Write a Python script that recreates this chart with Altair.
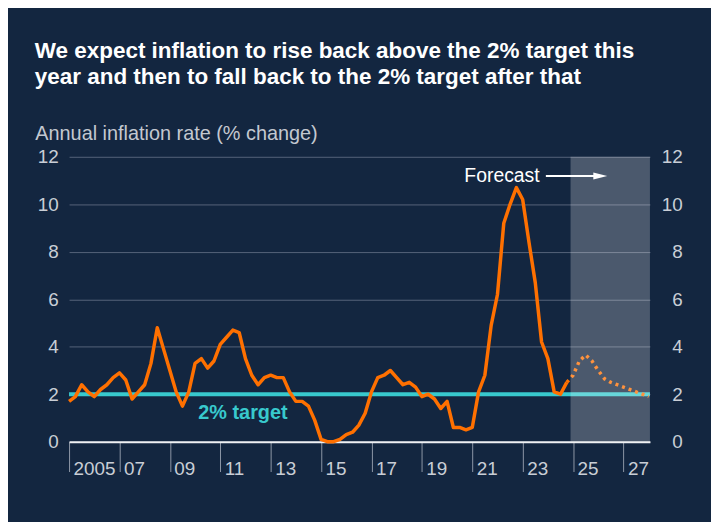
import altair as alt
import pandas as pd

# ---------------- data ----------------
start_year = 2005
actual_cpi = [1.7, 1.9, 2.4, 2.1, 1.9, 2.2, 2.4, 2.7,
              2.9, 2.6, 1.8, 2.1, 2.4, 3.3, 4.8, 3.9,
              3.0, 2.1, 1.5, 2.1, 3.3, 3.5, 3.1, 3.4,
              4.1, 4.4, 4.7, 4.6, 3.5, 2.8, 2.4, 2.7,
              2.8, 2.7, 2.7, 2.1, 1.7, 1.7, 1.5, 0.9,
              0.1, 0.0, 0.0, 0.1, 0.3, 0.4, 0.7, 1.2,
              2.1, 2.7, 2.8, 3.0, 2.7, 2.4, 2.5, 2.3,
              1.9, 2.0, 1.8, 1.4, 1.7, 0.6, 0.6, 0.5,
              0.6, 2.1, 2.8, 4.9, 6.2, 9.2, 10.0, 10.7,
              10.2, 8.4, 6.7, 4.2, 3.5, 2.1, 2.0, 2.5]
forecast_cpi = [2.5, 2.8, 3.4, 3.65, 3.4, 3.0, 2.65, 2.5, 2.4, 2.3, 2.2, 2.1, 2.0, 1.9]
axis_end = 2028.05
forecast_from = 2024.9
target_rate = 2.0
tick_years = list(range(2005, 2028, 2))
y_ticks = [0, 2, 4, 6, 8, 10, 12]

title_lines = ["We expect inflation to rise back above the 2% target this",
               "year and then to fall back to the 2% target after that"]
y_title = "Annual inflation rate (% change)"
target_label = ["2% target"]
target_label_pos = [2011.9, 0.95]
forecast_label = ["Forecast"]
forecast_label_pos = [2022.18, 10.93]
arrow_span = [2023.92, 2025.85]
arrow_head_t = [2026.08]
arrow_level = [11.19]

# ---------------- styles ----------------
NAVY = "#132640"
ORANGE = "#ff7000"
CYAN = "#38c9cd"
GRID = "#56637a"
LABEL = "#c9ced6"
FONT = "Liberation Sans"

n_act = len(actual_cpi)
actual_df = pd.DataFrame({"t": [start_year + i / 4 for i in range(n_act)], "v": actual_cpi})
forecast_df = pd.DataFrame({"t": [start_year + (n_act - 1 + i) / 4 for i in range(len(forecast_cpi))],
                            "v": forecast_cpi})
shade_df = pd.DataFrame({"t": [forecast_from], "t2": [axis_end], "v": [0], "v2": [12]})
target_df = pd.DataFrame({"t": [start_year], "t2": [axis_end], "v": [target_rate]})
tlabel_df = pd.DataFrame({"t": [target_label_pos[0]], "v": [target_label_pos[1]], "label": target_label})
flabel_df = pd.DataFrame({"t": [forecast_label_pos[0]], "v": [forecast_label_pos[1]], "label": forecast_label})
arrow_df = pd.DataFrame({"t": [arrow_span[0]], "t2": [arrow_span[1]], "v": arrow_level})
head_df = pd.DataFrame({"t": arrow_head_t, "v": arrow_level})

x_scale = alt.Scale(domain=[start_year, axis_end], nice=False, zero=False)
y_scale = alt.Scale(domain=[0, 12], nice=False, zero=True)

x_axis = alt.Axis(values=tick_years,
                  labelExpr="datum.value == 2005 ? '2005' : substring(toString(datum.value), 2, 4)",
                  grid=False, domain=True, domainColor="#eef0f3", domainWidth=2,
                  ticks=True, tickSize=30, tickColor="#8d97a6", tickWidth=1,
                  labelAlign="left", labelBaseline="alphabetic", labelPadding=2.5, labelOffset=4,
                  labelFontSize=19, labelColor=LABEL, labelFont=FONT,
                  labelFlush=False, labelOverlap=False, labelBound=False, title=None)

y_axis_left = alt.Axis(values=y_ticks, grid=True, gridColor=GRID, gridWidth=1,
                       domain=False, ticks=False, labelPadding=11,
                       labelFontSize=19, labelColor=LABEL, labelFont=FONT,
                       title=y_title, titleAngle=0, titleX=-34.5, titleY=-17,
                       titleAlign="left", titleBaseline="alphabetic",
                       titleFontSize=20, titleFontWeight="normal", titleColor="#c3c8d0", titleFont=FONT)

y_axis_right = alt.Axis(values=y_ticks, orient="right", grid=False, domain=False, ticks=False,
                        labelAlign="right", labelPadding=32.5,
                        labelFontSize=19, labelColor=LABEL, labelFont=FONT, title=None)

X = alt.X("t:Q", scale=x_scale, axis=x_axis, title=None)
X2 = alt.X2("t2:Q")


def Y(axis=None):
    return alt.Y("v:Q", scale=y_scale, axis=axis, title=None)


target = alt.Chart(target_df).mark_rule(color=CYAN, strokeWidth=4).encode(
    x=X, x2=X2, y=Y(y_axis_left))

actual = alt.Chart(actual_df).mark_line(color=ORANGE, strokeWidth=3.5, strokeJoin="round").encode(
    x=X, y=Y())

forecast = alt.Chart(forecast_df).mark_line(color=ORANGE, strokeWidth=3.5,
                                            strokeDash=[3, 4]).encode(x=X, y=Y())

tlabel = alt.Chart(tlabel_df).mark_text(color=CYAN, font=FONT, fontSize=20, fontWeight="bold",
                                        align="center", baseline="alphabetic").encode(
    x=X, y=Y(), text="label:N")

shade = alt.Chart(shade_df).mark_rect(color="white", opacity=0.24).encode(
    x=X, x2=X2, y=Y(), y2=alt.Y2("v2:Q"))

flabel = alt.Chart(flabel_df).mark_text(color="white", font=FONT, fontSize=19.5,
                                        align="center", baseline="alphabetic").encode(
    x=X, y=Y(), text="label:N")

arrow = alt.Chart(arrow_df).mark_rule(color="white", strokeWidth=2).encode(x=X, x2=X2, y=Y())

head = alt.Chart(head_df).mark_point(shape="M -1 -0.5 L 1 0 L -1 0.5 Z", size=196, filled=True,
                                     color="white", opacity=1, strokeWidth=0).encode(x=X, y=Y())

right_axis = alt.Chart(target_df).mark_point(opacity=0).encode(x=X, y=Y(y_axis_right))

chart = alt.layer(target, actual, forecast, tlabel, shade, flabel, arrow, head, right_axis).resolve_scale(
    y="independent"
).properties(
    width=585, height=287,
    background=NAVY,
    padding={"left": 61.5, "top": 148, "right": 61.5, "bottom": 79},
    autosize=alt.AutoSizeParams(type="none"),
    title=alt.Title(title_lines, anchor="start", frame="group", dx=-34.5, offset=36,
                    fontSize=22.6, font=FONT, fontWeight="bold", color="white", lineHeight=26),
).configure_view(stroke=None)

chart.save("out.html", embed_options={"renderer": "svg", "actions": False})
